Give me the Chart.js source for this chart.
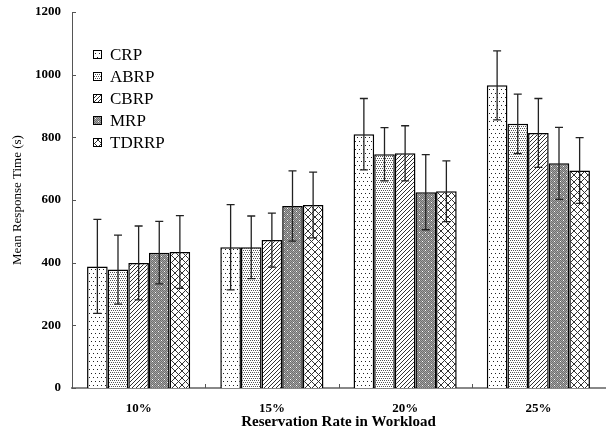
<!DOCTYPE html>
<html>
<head>
<meta charset="utf-8">
<script src="https://cdn.jsdelivr.net/npm/chart.js@4.4.1/dist/chart.umd.min.js"></script>
<style>
html,body{margin:0;padding:0;background:#fff}
#wrap{width:606px;height:427px}
</style>
</head>
<body>
<div id="wrap"><canvas id="myChart" width="606" height="427"></canvas></div>
<script>
var categories=['10%','15%','20%','25%'];
var seriesNames=['CRP','ABRP','CBRP','MRP','TDRRP'];
var crp=[388,449,810,966];
var crpErr=[150,136,114,110];
var abrp=[378,449,746,843];
var abrpErr=[110,100,85,95];
var cbrp=[399,472,749,814];
var cbrpErr=[118,86,88,110];
var mrp=[432,581,625,717];
var mrpErr=[100,112,120,115];
var tdrrp=[434,584,628,694];
var tdrrpErr=[116,105,97,105];
var yTicks=[0,200,400,600,800,1000,1200];

var FONT='Liberation Serif';

// little tiles for the hatch fills
function makePattern(kind){
    var c=document.createElement('canvas');
    var g=c.getContext('2d');
    var px=function(x,y,col){g.fillStyle=col;g.fillRect(x,y,1,1);};
    if(kind=='crp'){
        c.width=4;c.height=8;
        g.fillStyle='#fff';g.fillRect(0,0,4,8);
        px(1,1,'#222');px(3,5,'#222');
    }else if(kind=='abrp'){
        c.width=4;c.height=4;
        g.fillStyle='#fff';g.fillRect(0,0,4,4);
        px(0,0,'#555');px(2,0,'#555');px(1,2,'#555');px(3,2,'#555');
    }else if(kind=='cbrp'){
        c.width=4;c.height=4;
        g.fillStyle='#fff';g.fillRect(0,0,4,4);
        for(var i=0;i<4;i++)px(3-i,i,'#333');
    }else if(kind=='mrp'){
        c.width=6;c.height=6;
        g.fillStyle='#a4a4a4';g.fillRect(0,0,6,6);
        for(var x=0;x<6;x++)for(var y=0;y<6;y++)if((x+y)%2==0)px(x,y,'#6e6e6e');
        px(2,1,'#fff');px(5,4,'#fff');
    }else{
        c.width=7;c.height=7;
        g.fillStyle='#fff';g.fillRect(0,0,7,7);
        for(var k=0;k<7;k++){px(k,k,'#333');px(6-k,k,'#333');}
    }
    return g.createPattern(c,'repeat');
}

var values=[crp,abrp,cbrp,mrp,tdrrp];
var errs=[crpErr,abrpErr,cbrpErr,mrpErr,tdrrpErr];
var kinds=['crp','abrp','cbrp','mrp','tdrrp'];
var datasets=[];
for(var i=0;i<5;i++){
    datasets.push({
        label:seriesNames[i],
        data:values[i],
        errors:errs[i],
        backgroundColor:makePattern(kinds[i]),
        borderColor:'#000',
        borderWidth:1.5,
        categoryPercentage:0.774,
        barPercentage:1.0
    });
}

var errorBars={
    id:'errorBars',
    afterDatasetsDraw:function(chart){
        var ctx=chart.ctx, ys=chart.scales.y;
        ctx.save();
        ctx.strokeStyle='#222';
        ctx.lineWidth=1.3;
        chart.data.datasets.forEach(function(ds,di){
            chart.getDatasetMeta(di).data.forEach(function(bar,j){
                var v=ds.data[j], e=ds.errors[j];
                var yt=ys.getPixelForValue(v+e), yb=ys.getPixelForValue(v-e);
                ctx.beginPath();
                ctx.moveTo(bar.x,yt);ctx.lineTo(bar.x,yb);
                ctx.moveTo(bar.x-4,yt);ctx.lineTo(bar.x+4,yt);
                ctx.moveTo(bar.x-4,yb);ctx.lineTo(bar.x+4,yb);
                ctx.stroke();
            });
        });
        ctx.restore();
    }
};

// inward tick marks like the original
var innerTicks={
    id:'innerTicks',
    afterDraw:function(chart){
        var ctx=chart.ctx, a=chart.chartArea, ys=chart.scales.y, xs=chart.scales.x;
        ctx.save();
        ctx.strokeStyle='#555';ctx.lineWidth=1;
        ctx.beginPath();
        yTicks.forEach(function(t){
            var y=Math.round(ys.getPixelForValue(t))+0.5;
            ctx.moveTo(a.left,y);ctx.lineTo(a.left+4,y);
        });
        for(var i=0;i<categories.length-1;i++){
            var x=Math.round((xs.getPixelForValue(i)+xs.getPixelForValue(i+1))/2)+0.5;
            ctx.moveTo(x,a.bottom);ctx.lineTo(x,a.bottom-4);
        }
        ctx.stroke();
        ctx.restore();
    }
};

var boxLegend={
    id:'boxLegend',
    afterDraw:function(chart){
        var ctx=chart.ctx, a=chart.chartArea;
        ctx.save();
        ctx.font='17px "'+FONT+'"';
        ctx.textBaseline='middle';
        chart.data.datasets.forEach(function(ds,i){
            var y=a.top+43+i*22;
            var x=a.left+21;
            ctx.fillStyle=ds.backgroundColor;
            ctx.fillRect(x,y-4,8,8);
            ctx.strokeStyle='#000';ctx.lineWidth=1;
            ctx.strokeRect(x+0.5,y-4.5,8,8);
            ctx.fillStyle='#000';
            ctx.fillText(ds.label,x+17,y+1);
        });
        ctx.restore();
    }
};

var ctx=document.getElementById('myChart').getContext('2d');
var myChart=new Chart(ctx,{
    type:'bar',
    data:{labels:categories,datasets:datasets},
    plugins:[errorBars,innerTicks,boxLegend],
    options:{
        responsive:false,
        animation:false,
        layout:{padding:{top:12,right:1,left:0,bottom:0}},
        plugins:{legend:{display:false},tooltip:{enabled:false}},
        scales:{
            x:{
                grid:{display:false,drawTicks:false},
                border:{color:'#888',width:2},
                ticks:{padding:13,color:'#000',font:{family:FONT,size:13,weight:'bold'}},
                title:{display:true,text:'Reservation Rate in Workload',color:'#000',
                    font:{family:FONT,size:15,weight:'bold',lineHeight:1},padding:{top:0,bottom:-3}},
                afterFit:function(s){s.height=39;s.paddingLeft=0;s.paddingRight=0;}
            },
            y:{
                min:0,max:1200,
                afterBuildTicks:function(s){s.ticks=yTicks.map(function(v){return {value:v};});},
                grid:{display:false,drawTicks:false},
                border:{color:'#555',width:1},
                ticks:{padding:11,color:'#000',font:{family:FONT,size:13,weight:'bold'},
                    callback:function(v){return String(v);}},
                title:{display:true,text:'Mean Response Time (s)',color:'#000',
                    font:{family:FONT,size:13,lineHeight:1},padding:{top:11,bottom:0}},
                afterFit:function(s){s.width=72;s.paddingTop=0;s.paddingBottom=0;}
            }
        }
    }
});
</script>
</body>
</html>
